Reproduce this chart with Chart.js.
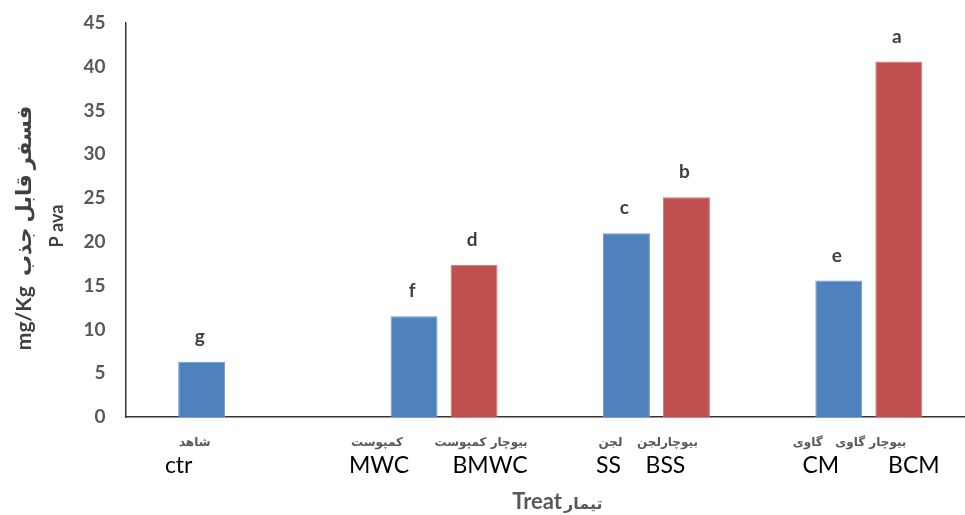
<!DOCTYPE html>
<html>
<head>
<meta charset="utf-8">
<script src="https://cdn.jsdelivr.net/npm/chart.js@4.4.1/dist/chart.umd.min.js"></script>
<style>
  html, body { margin: 0; padding: 0; background: #ffffff; overflow: hidden; }
  #wrap { width: 975px; height: 515px; }
</style>
</head>
<body>
<div id="wrap"><canvas id="c" width="975" height="515"></canvas></div>
<script>
// Treatment groups (one category per group)
const groupKeys = ['ctr', 'MWC', 'SS', 'CM'];

// Untreated amendments (blue series)
const plainNamesFa = ['شاهد', 'کمپوست', 'لجن', 'گاوی'];
const plainNamesEn = ['ctr', 'MWC', 'SS', 'CM'];
const plainValues  = [6.3, 11.5, 21.0, 15.6];
const plainLetters = ['g', 'f', 'c', 'e'];

// Biochar-enriched amendments (red series)
const biocharNamesFa = [null, 'بیوچار کمپوست', 'بیوچارلجن', 'بیوچار گاوی'];
const biocharNamesEn = [null, 'BMWC', 'BSS', 'BCM'];
const biocharValues  = [null, 17.4, 25.1, 40.6];
const biocharLetters = [null, 'd', 'b', 'a'];

// Value axis
const yMin = 0, yMax = 45, yStep = 5;

// Axis titles
const yTitleLine1 = 'mg/Kg  فسفر قابل جذب';
const yTitleLine2 = 'P ava';
const xTitleEn = 'Treat';
const xTitleFa = 'تیمار';

// Horizontal nudges of the two-line labels under each bar (px)
const plainFaShift   = [-7, -37, -16, -31];
const plainEnShift   = [-23, -35, -18, -18];
const biocharFaShift = [0, 7, -19, -28];
const biocharEnShift = [0, 16, -21, 15];

const FONT = "Lato, 'DejaVu Sans', sans-serif";
const FA_FONT = "'DejaVu Sans', sans-serif";

const annotate = {
  id: 'annotate',
  afterDatasetsDraw(chart) {
    const ctx = chart.ctx;
    ctx.save();

    const sets = [
      { meta: chart.getDatasetMeta(0), letters: plainLetters, fa: plainNamesFa, en: plainNamesEn, faS: plainFaShift, enS: plainEnShift },
      { meta: chart.getDatasetMeta(1), letters: biocharLetters, fa: biocharNamesFa, en: biocharNamesEn, faS: biocharFaShift, enS: biocharEnShift }
    ];

    const base = chart.scales.y.getPixelForValue(0);
    sets.forEach(s => {
      s.meta.data.forEach((bar, i) => {
        if (s.letters[i] == null) return;
        const x = bar.x;
        // significance letter above bar
        ctx.font = "bold 19px " + FONT;
        ctx.fillStyle = '#404040';
        ctx.textAlign = 'center';
        ctx.textBaseline = 'middle';
        ctx.fillText(s.letters[i], x - 2, bar.y - 25);

        // Persian name
        ctx.font = "bold 12px " + FA_FONT;
        ctx.fillStyle = '#595959';
        ctx.fillText(s.fa[i], x + s.faS[i], base + 26);

        // English code
        ctx.font = "23px " + FONT;
        ctx.fillStyle = '#000000';
        ctx.fillText(s.en[i], x + s.enS[i], base + 49);
      });
    });

    // y axis title (two rotated lines)
    ctx.fillStyle = '#404040';
    ctx.textAlign = 'center';
    ctx.textBaseline = 'middle';
    ctx.save();
    ctx.translate(24, 228);
    ctx.rotate(-Math.PI / 2);
    ctx.font = "bold 21px " + FONT;
    ctx.fillText(yTitleLine1, 0, 0);
    ctx.restore();
    ctx.save();
    ctx.translate(57, 226);
    ctx.rotate(-Math.PI / 2);
    ctx.font = "bold 18px " + FONT;
    ctx.fillText(yTitleLine2, 0, 0);
    ctx.restore();

    // x axis title
    ctx.fillStyle = '#595959';
    ctx.textBaseline = 'alphabetic';
    ctx.textAlign = 'right';
    ctx.font = "bold 22px " + FONT;
    ctx.fillText(xTitleEn, 562, 509);
    ctx.textAlign = 'left';
    ctx.font = "bold 16px " + FA_FONT;
    ctx.fillText(xTitleFa, 564, 509);

    ctx.restore();
  }
};

new Chart(document.getElementById('c'), {
  type: 'bar',
  data: {
    labels: groupKeys,
    datasets: [
      {
        data: plainValues,
        backgroundColor: '#4F81BD',
        borderColor: '#6f97cc',
        borderWidth: 1
      },
      {
        data: biocharValues,
        backgroundColor: '#C0504D',
        borderColor: '#d27572',
        borderWidth: 1
      }
    ]
  },
  options: {
    responsive: false,
    animation: false,
    devicePixelRatio: 1,
    categoryPercentage: 0.565,
    barPercentage: 0.783,
    layout: { padding: { top: 23, left: 0, right: 0, bottom: 0 } },
    plugins: {
      legend: { display: false },
      tooltip: { enabled: false }
    },
    scales: {
      x: {
        grid: { display: false, drawTicks: false },
        border: { display: true, color: '#333333', width: 1.5 },
        ticks: { display: false },
        afterFit(scale) {
          scale.height = 98;
          scale.paddingLeft = 0;
          scale.paddingRight = 0;
        }
      },
      y: {
        min: yMin,
        max: yMax,
        grid: { display: false, drawTicks: false },
        border: { display: true, color: '#333333', width: 1.5 },
        ticks: {
          stepSize: yStep,
          padding: 20,
          color: '#595959',
          font: { family: FONT, size: 19, weight: 'bold' }
        },
        afterFit(scale) {
          scale.width = 125.5;
          scale.paddingTop = 0;
          scale.paddingBottom = 0;
        }
      }
    }
  },
  plugins: [annotate]
});
</script>
</body>
</html>
